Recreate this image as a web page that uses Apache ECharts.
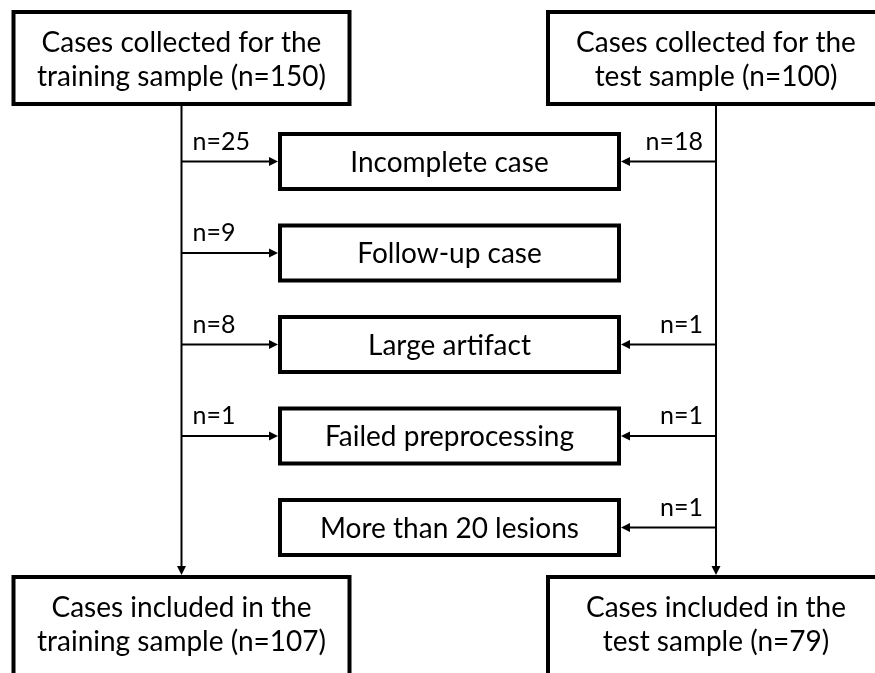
<!DOCTYPE html>
<html>
<head>
<meta charset="utf-8">
<script src="https://cdn.jsdelivr.net/npm/echarts@6/dist/echarts.min.js"></script>
<style>html,body{margin:0;padding:0;background:#fff;}#c{width:875px;height:673px;}</style>
</head>
<body>
<div id="c"></div>
<script>
// ---- data ----
const sampleNames = ['training', 'test'];
const collected = [150, 100];
const included = [107, 79];
const reasons = ['Incomplete case', 'Follow-up case', 'Large artifact', 'Failed preprocessing', 'More than 20 lesions'];
const trainExcluded = [25, 9, 8, 1, null];
const testExcluded = [18, null, 1, 1, 1];

// ---- layout (pixel space mapped through hidden axes) ----
const W = 875, H = 673;
const colX = [181.5, 716];
const sideHalfW = 168;
const topY = [12, 104];
const bottomY0 = 577;
const midX = [280, 619];
const rowY0 = 161.5, rowStep = 91.5, rowHalfH = 27.5;
const FONT = 'Lato, "Open Sans", sans-serif';
const BIG = 28, SMALL = 25;

function arrowHead(api, tip, dir) {
  const t = api.coord(tip);
  const L = 9, hw = 4.5;
  let pts;
  if (dir === 'right') pts = [[t[0], t[1]], [t[0] - L, t[1] - hw], [t[0] - L, t[1] + hw]];
  else if (dir === 'left') pts = [[t[0], t[1]], [t[0] + L, t[1] - hw], [t[0] + L, t[1] + hw]];
  else pts = [[t[0], t[1]], [t[0] - hw, t[1] - L], [t[0] + hw, t[1] - L]];
  return { type: 'polygon', shape: { points: pts }, style: { fill: '#000' } };
}
function seg(api, a, b) {
  const p = api.coord(a), q = api.coord(b);
  return { type: 'line', shape: { x1: p[0], y1: p[1], x2: q[0], y2: q[1] }, style: { stroke: '#000', lineWidth: 2 } };
}
function box(api, x0, y0, x1, y1) {
  const p = api.coord([x0, y0]), q = api.coord([x1, y1]);
  return { type: 'rect', shape: { x: p[0], y: p[1], width: q[0] - p[0], height: q[1] - p[1] },
    style: { fill: '#fff', stroke: '#000', lineWidth: 4 } };
}
function txt(api, x, y, s, size, align) {
  const p = api.coord([x, y]);
  return { type: 'text', style: { text: s, x: p[0], y: p[1], fill: '#000', fontFamily: FONT,
    fontSize: size, align: align || 'center', verticalAlign: 'middle', lineHeight: Math.round(size * 1.22) } };
}

const option = {
  animation: false,
  grid: { left: 0, right: 0, top: 0, bottom: 0 },
  xAxis: { type: 'value', min: 0, max: W, show: false },
  yAxis: { type: 'value', min: 0, max: H, inverse: true, show: false },
  series: [
    {
      type: 'custom', coordinateSystem: 'cartesian2d', z: 1,
      data: sampleNames.map((n, i) => [i]),
      renderItem: function (params, api) {
        const i = api.value(0);
        const x = colX[i];
        return { type: 'group', children: [
          seg(api, [x, topY[1]], [x, bottomY0 - 6]),
          arrowHead(api, [x, bottomY0 - 2], 'down')
        ] };
      }
    },
    {
      type: 'custom', coordinateSystem: 'cartesian2d', z: 2,
      data: sampleNames.map((n, i) => [i, collected[i], included[i]]),
      renderItem: function (params, api) {
        const i = api.value(0);
        const x = colX[i];
        const name = sampleNames[i];
        return { type: 'group', children: [
          box(api, x - sideHalfW, topY[0], x + sideHalfW, topY[1]),
          txt(api, x, (topY[0] + topY[1]) / 2 + 2, 'Cases collected for the\n' + name + ' sample (n=' + api.value(1) + ')', BIG),
          box(api, x - sideHalfW, bottomY0, x + sideHalfW, bottomY0 + 200),
          txt(api, x, bottomY0 + 48, 'Cases included in the\n' + name + ' sample (n=' + api.value(2) + ')', BIG)
        ] };
      }
    },
    {
      type: 'custom', coordinateSystem: 'cartesian2d', z: 3,
      data: reasons.map((r, i) => [i, trainExcluded[i] == null ? '-' : trainExcluded[i], testExcluded[i] == null ? '-' : testExcluded[i]]),
      renderItem: function (params, api) {
        const i = params.dataIndex;
        const y = rowY0 + i * rowStep;
        const ch = [
          box(api, midX[0], y - rowHalfH, midX[1], y + rowHalfH),
          txt(api, (midX[0] + midX[1]) / 2, y + 1, reasons[i], BIG)
        ];
        const tr = trainExcluded[i], te = testExcluded[i];
        if (tr != null) {
          ch.push(seg(api, [colX[0], y], [midX[0] - 8, y]));
          ch.push(arrowHead(api, [midX[0] - 2, y], 'right'));
          ch.push(txt(api, colX[0] + 11, y - 20, 'n=' + tr, SMALL, 'left'));
        }
        if (te != null) {
          ch.push(seg(api, [colX[1], y], [midX[1] + 8, y]));
          ch.push(arrowHead(api, [midX[1] + 2, y], 'left'));
          ch.push(txt(api, colX[1] - 13, y - 20, 'n=' + te, SMALL, 'right'));
        }
        return { type: 'group', children: ch };
      }
    }
  ]
};
const chart = echarts.init(document.getElementById('c'), null, { renderer: 'canvas' });
chart.setOption(option);
</script>
</body>
</html>
